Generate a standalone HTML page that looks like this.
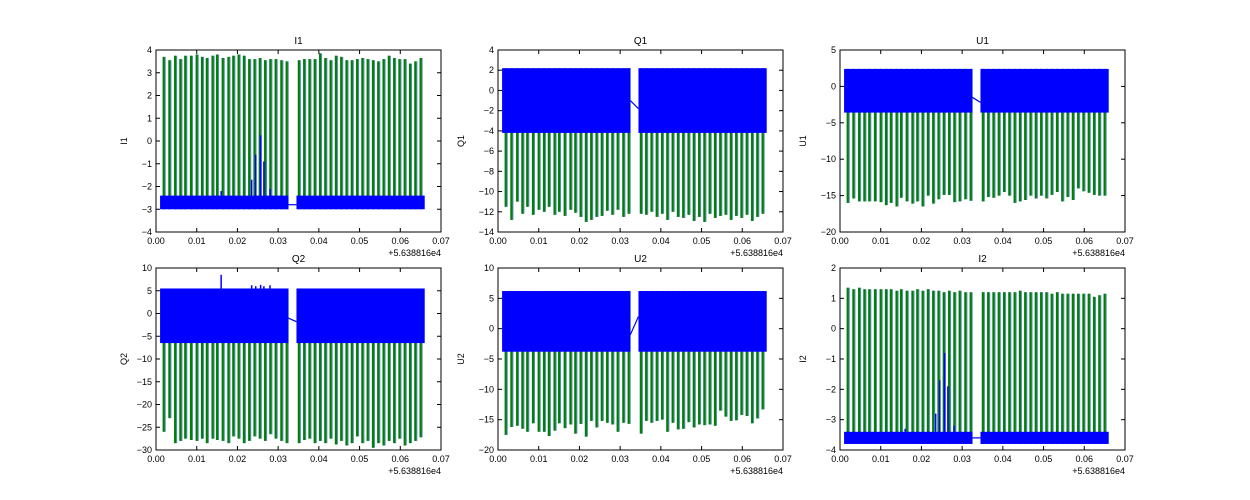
<!DOCTYPE html>
<html><head><meta charset="utf-8"><style>
body{margin:0;background:#fff;}
svg{display:block;font-family:"Liberation Sans","DejaVu Sans",sans-serif;}
</style></head><body>
<svg id="fig" width="1250" height="500" viewBox="0 0 1250 500"></svg>
<script>
// shared spike times (x offsets from 5.638816e4)
const spikeTimes = [0.0020,0.0034,0.0048,0.0061,0.0073,0.0087,0.0101,0.0114,0.0126,0.0140,0.0151,0.0165,0.0179,0.0191,0.0204,0.0217,0.0230,0.0243,0.0256,0.0269,0.0282,0.0295,0.0309,0.0322,
 0.0352,0.0365,0.0378,0.0391,0.0404,0.0417,0.0430,0.0443,0.0456,0.0469,0.0482,0.0495,0.0508,0.0521,0.0534,0.0547,0.0560,0.0573,0.0586,0.0599,0.0612,0.0625,0.0638,0.0651];
const segments = [[0.001,0.0325],[0.0345,0.066]];
const titles = ["I1","Q1","U1","Q2","U2","I2"];
const yMins = [-4,-14,-20,-30,-20,-4];
const yMaxs = [4,4,5,10,10,2];
const yStepsArr = [1,2,5,5,5,1];
const bandLows = [-3.0,-4.2,-3.6,-6.5,-3.8,-3.8];
const bandHighs = [-2.4,2.2,2.4,5.5,6.2,-3.4];
const gapStart = [-2.8,-1.0,-1.5,-1.0,-1.0,-3.6];
const gapEnd = [-2.8,-1.8,-2.2,-1.8,2.0,-3.6];
const peaksI1 = [3.7,3.55,3.75,3.6,3.75,3.75,3.8,3.7,3.65,3.75,3.8,3.65,3.7,3.75,3.8,3.75,3.6,3.6,3.65,3.55,3.6,3.6,3.55,3.5,3.55,3.6,3.6,3.6,3.85,3.65,3.55,3.75,3.7,3.55,3.55,3.6,3.65,3.6,3.55,3.5,3.6,3.75,3.65,3.6,3.6,3.4,3.5,3.65];
const peaksQ1 = [-11.5,-12.8,-11.0,-12.2,-11.5,-12.3,-11.8,-12.0,-11.5,-12.3,-12.0,-12.4,-11.8,-12.1,-12.5,-13.0,-12.8,-12.5,-12.4,-11.9,-12.3,-11.8,-12.5,-12.2,-12.2,-12.3,-12.0,-12.5,-12.2,-12.8,-12.0,-12.5,-12.6,-12.3,-12.9,-12.5,-13.0,-12.2,-12.6,-12.4,-12.3,-12.8,-12.4,-12.6,-12.3,-12.9,-12.5,-12.2];
const peaksU1 = [-16.0,-15.4,-15.8,-15.8,-15.8,-15.8,-15.9,-16.3,-16.0,-16.5,-15.3,-15.8,-16.1,-15.8,-16.5,-15.0,-16.1,-15.5,-14.9,-14.9,-15.9,-15.8,-15.5,-15.7,-15.8,-15.2,-15.3,-15.0,-14.5,-15.0,-16.0,-15.8,-15.6,-15.0,-15.4,-15.0,-15.4,-14.9,-14.5,-15.8,-15.2,-15.6,-14.0,-14.4,-14.6,-14.9,-15.0,-15.0];
const peaksQ2 = [-26.0,-23.0,-28.5,-28.0,-27.5,-27.8,-28.0,-27.5,-28.5,-27.5,-27.8,-28.0,-28.5,-27.0,-27.5,-28.5,-28.0,-27.0,-27.5,-28.0,-26.5,-27.5,-28.0,-28.5,-28.5,-27.8,-27.5,-28.5,-28.0,-28.5,-27.5,-28.8,-28.0,-29.0,-28.5,-27.0,-28.5,-28.0,-29.5,-28.5,-29.0,-28.0,-28.5,-27.5,-29.0,-28.5,-28.0,-27.2];
const peaksU2 = [-17.5,-16.2,-16.0,-16.5,-17.0,-15.6,-17.0,-17.0,-17.7,-16.8,-15.6,-16.4,-15.8,-17.3,-15.7,-17.8,-15.2,-16.3,-15.2,-15.5,-15.8,-17.0,-15.5,-15.7,-17.3,-15.2,-15.5,-15.2,-15.0,-17.0,-15.5,-16.6,-16.5,-15.4,-16.3,-15.8,-15.9,-15.8,-16.0,-13.5,-14.5,-15.2,-15.1,-14.2,-14.4,-15.6,-14.8,-13.3];
const peaksI2 = [1.35,1.3,1.35,1.3,1.3,1.3,1.3,1.3,1.3,1.25,1.3,1.25,1.25,1.3,1.25,1.3,1.25,1.25,1.2,1.25,1.2,1.25,1.2,1.2,1.2,1.2,1.2,1.2,1.2,1.2,1.2,1.25,1.2,1.2,1.2,1.2,1.2,1.15,1.2,1.15,1.15,1.15,1.15,1.15,1.15,1.05,1.1,1.15];
const peaksAll = [peaksI1,peaksQ1,peaksU1,peaksQ2,peaksU2,peaksI2];
const blueSpikeTimes = [0.0160,0.0235,0.0245,0.0257,0.0265,0.0280];
const blueSpikesI1 = [-2.2,-1.7,-0.6,0.25,-0.9,-2.1];
const blueSpikesI2 = [-3.3,-2.8,-1.7,-0.8,-1.9,-3.2];
const blueSpikesQ2 = [8.5,6.2,6.0,6.3,6.0,6.2];
const blueSpikesAll = [blueSpikesI1,null,null,blueSpikesQ2,null,blueSpikesI2];

const NS="http://www.w3.org/2000/svg";
const fig=document.getElementById('fig');
function mk(tag,attrs,parent){const e=document.createElementNS(NS,tag);for(const k in attrs)e.setAttribute(k,attrs[k]);(parent||fig).appendChild(e);return e;}
const colX=[156,498,840], rowY=[50,268], W=285, H=182;
const xTicks=[0,0.01,0.02,0.03,0.04,0.05,0.06,0.07];

titles.forEach((name,i)=>{
  const x0=colX[i%3], y0=rowY[Math.floor(i/3)];
  const g=mk('g',{});
  
  
  const xs=v=>x0+v/0.07*W;
  const ys=v=>y0+H-(v-yMins[i])/(yMaxs[i]-yMins[i])*H;
  const clip=mk('clipPath',{id:'c'+i},g);mk('rect',{x:x0,y:y0,width:W,height:H},clip);
  const pl=mk('g',{'clip-path':'url(#c'+i+')'},g);
  
  
  // green spikes (under blue band)
  peaksAll[i].forEach((p,k)=>{
    const up=p>bandHighs[i];
    const base=up?bandLows[i]:bandHighs[i];
    const x=xs(spikeTimes[k]);
    const e=mk('line',{x1:x,y1:ys(base),x2:x,y2:ys(p),stroke:'#5a8fb0','stroke-width':3.2},pl);
    
    
    const l=mk('line',{x1:x-0.4,y1:ys(base),x2:x-0.4,y2:ys(p),stroke:'#008000','stroke-width':2},pl);
    
    
  });
  // blue bands
  segments.forEach(s=>{
    const r=mk('rect',{x:xs(s[0]),y:ys(bandHighs[i]),width:xs(s[1])-xs(s[0]),height:Math.max(2,ys(bandLows[i])-ys(bandHighs[i])),fill:'#0000ff'},pl);
    
    
  });
  const gl=mk('line',{x1:xs(segments[0][1]),y1:ys(gapStart[i]),x2:xs(segments[1][0]),y2:ys(gapEnd[i]),stroke:'#0000ff','stroke-width':1.2},pl);
  
  
  const bs=blueSpikesAll[i];
  if(bs){bs.forEach((v,k)=>{
    const base=v>bandHighs[i]?bandHighs[i]:bandLows[i];
    const l=mk('line',{x1:xs(blueSpikeTimes[k]),y1:ys(base),x2:xs(blueSpikeTimes[k]),y2:ys(v),stroke:'#0000ff','stroke-width':1.5},pl);
    
    
  });}
  // frame
  const fr=mk('rect',{x:x0,y:y0,width:W,height:H,fill:'none',stroke:'#000','stroke-width':1},g);
  
  
  xTicks.forEach(t=>{
    const x=xs(t);
    mk('line',{x1:x,y1:y0+H,x2:x,y2:y0+H-4,stroke:'#000'},g);
    mk('line',{x1:x,y1:y0,x2:x,y2:y0+4,stroke:'#000'},g);
    const tx=mk('text',{x:x,y:y0+H+12,'font-size':9,'text-anchor':'middle',fill:'#000'},g);
    tx.textContent=t.toFixed(2);
    
    
  });
  for(let v=yMins[i];v<=yMaxs[i]+1e-9;v+=yStepsArr[i]){
    const y=ys(v);
    mk('line',{x1:x0,y1:y,x2:x0+4,y2:y,stroke:'#000'},g);
    mk('line',{x1:x0+W,y1:y,x2:x0+W-4,y2:y,stroke:'#000'},g);
    const tx=mk('text',{x:x0-4,y:y+3,'font-size':9,'text-anchor':'end',fill:'#000'},g);
    tx.textContent=v<0?'\u2212'+(-v):String(v);
    
    
  }
  const off=mk('text',{x:x0+W,y:y0+H+24,'font-size':9,'text-anchor':'end',fill:'#000'},g);
  off.textContent='+5.638816e4';
  
  
  const ti=mk('text',{x:x0+W/2,y:y0-6,'font-size':10,'text-anchor':'middle',fill:'#000'},g);
  ti.textContent=name;
  
  
  const yl=mk('text',{x:0,y:0,'font-size':9,'text-anchor':'middle',fill:'#000',transform:'translate('+(x0-(i%3==0?29:34))+','+(y0+H/2)+') rotate(-90)'},g);
  yl.textContent=name;
  
  
});
</script>
</body></html>
